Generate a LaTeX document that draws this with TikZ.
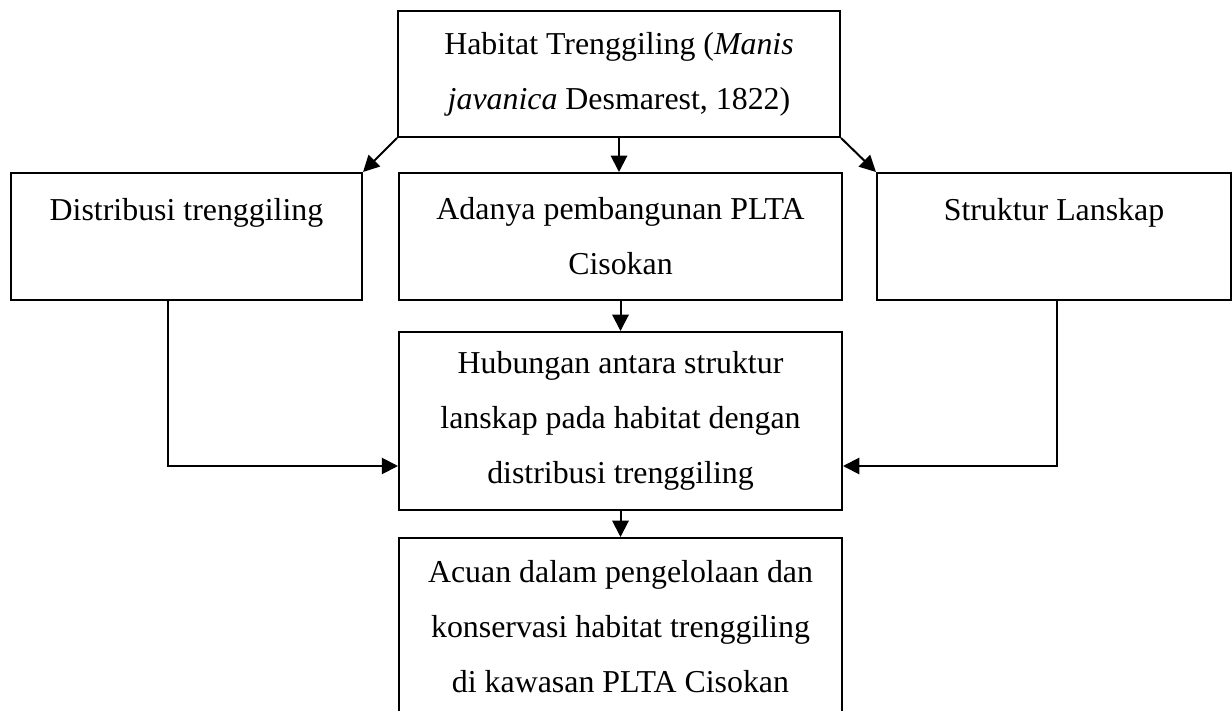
\documentclass[tikz,border=0pt]{standalone}
\usepackage{fontspec}
\setmainfont{Liberation Serif}
\usetikzlibrary{arrows.meta}

\begin{document}
\begin{tikzpicture}[x=0.4pt,y=-0.4pt, line join=miter,
    kotak/.style={draw, line width=0.8pt, inner sep=0pt, align=center,
        font=\fontsize{12.75pt}{22pt}\selectfont},
    panah/.style={line width=0.8pt, -{Triangle[length=6.5pt,width=6.5pt]}}]
    \useasboundingbox (0,0) rectangle (1232,711);

    % Boxes
    \node[kotak, minimum width=176.8pt, minimum height=50.4pt] (habitat) at (619,74)
        {Habitat Trenggiling (\textit{Manis}\\\textit{javanica} Desmarest, 1822)};
    \node[kotak, minimum width=140.4pt, minimum height=50.8pt] (distribusi) at (186.5,236.5)
        {Distribusi trenggiling\\\mbox{}};
    \node[kotak, minimum width=177.2pt, minimum height=50.8pt] (plta) at (620.5,236.5)
        {Adanya pembangunan PLTA\\Cisokan};
    \node[kotak, minimum width=141.6pt, minimum height=50.8pt] (lanskap) at (1054,236.5)
        {Struktur Lanskap\\\mbox{}};
    \node[kotak, minimum width=177.2pt, minimum height=71.2pt] (hubungan) at (620.5,421)
        {Hubungan antara struktur\\lanskap pada habitat dengan\\distribusi trenggiling};
    \node[kotak, minimum width=177.2pt, minimum height=71.2pt] (acuan) at (620.5,627)
        {Acuan dalam pengelolaan dan\\konservasi habitat trenggiling\\di kawasan PLTA Cisokan};

    % Arrows
    \draw[panah] (habitat.south west) -- (distribusi.north east);
    \draw[panah] (habitat.south) -- (habitat.south |- plta.north);
    \draw[panah] (habitat.south east) -- (lanskap.north west);
    \draw[panah] (plta.south) -- (hubungan.north);
    \draw[panah] ([xshift=-7.4pt]distribusi.south) |- ([yshift=-18pt]hubungan.west);
    \draw[panah] ([xshift=1.2pt]lanskap.south) |- ([yshift=-18pt]hubungan.east);
    \draw[panah] (hubungan.south) -- (acuan.north);
\end{tikzpicture}
\end{document}
